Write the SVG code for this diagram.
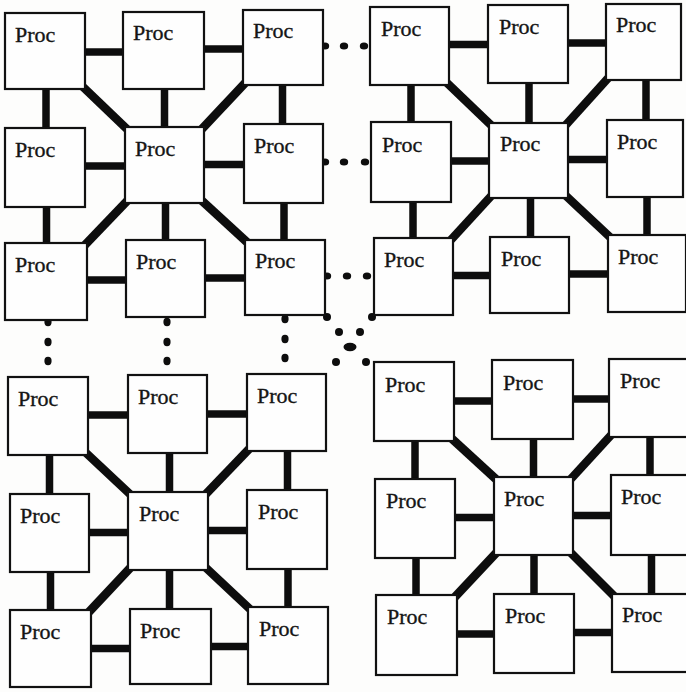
<svg xmlns="http://www.w3.org/2000/svg" width="686" height="692" viewBox="0 0 686 692">
<style>
.bg{fill:#fdfdfc}
.box{fill:#fefefe;stroke:#111;stroke-width:2.2}
.lbl{font-family:"Liberation Serif","Times New Roman",serif;font-size:22px;fill:#151515;stroke:#151515;stroke-width:0.35}
.link{stroke:#0d0d0d;stroke-width:7.5;fill:none}
.diag{stroke:#0d0d0d;stroke-width:8.5;fill:none}
.dot{fill:#0d0d0d}
</style>
<rect class="bg" x="0" y="0" width="686" height="692"/>
<g id="connectors">
<!-- Q1 -->
<line class="link" x1="82" y1="52" x2="126" y2="52"/>
<line class="link" x1="201" y1="49" x2="246" y2="49"/>
<line class="link" x1="82" y1="166" x2="128" y2="166"/>
<line class="link" x1="201" y1="164.5" x2="247" y2="164.5"/>
<line class="link" x1="84" y1="280" x2="129" y2="280"/>
<line class="link" x1="202" y1="278" x2="248" y2="278"/>
<line class="link" x1="46" y1="86" x2="46" y2="131"/>
<line class="link" x1="164.5" y1="86" x2="164.5" y2="130"/>
<line class="link" x1="282.5" y1="82" x2="282.5" y2="127"/>
<line class="link" x1="46.5" y1="204" x2="46.5" y2="246"/>
<line class="link" x1="165.5" y1="200" x2="165.5" y2="243"/>
<line class="link" x1="284" y1="200" x2="284" y2="243"/>
<line class="diag" x1="81" y1="85" x2="129" y2="131"/>
<line class="diag" x1="247" y1="81" x2="200" y2="131"/>
<line class="diag" x1="83" y1="247" x2="129" y2="199"/>
<line class="diag" x1="249" y1="244" x2="200" y2="199"/>
<!-- Q2 -->
<line class="link" x1="446" y1="44.5" x2="491" y2="44.5"/>
<line class="link" x1="565" y1="43" x2="609" y2="43"/>
<line class="link" x1="448" y1="161" x2="492" y2="161"/>
<line class="link" x1="565" y1="159.5" x2="610" y2="159.5"/>
<line class="link" x1="450" y1="275.5" x2="493" y2="275.5"/>
<line class="link" x1="566" y1="274" x2="611" y2="274"/>
<line class="link" x1="411" y1="82" x2="411" y2="125"/>
<line class="link" x1="529" y1="80" x2="529" y2="126"/>
<line class="link" x1="646" y1="77" x2="646" y2="123"/>
<line class="link" x1="413" y1="199" x2="413" y2="241"/>
<line class="link" x1="530.5" y1="195" x2="530.5" y2="240"/>
<line class="link" x1="647" y1="194" x2="647" y2="238"/>
<line class="diag" x1="445" y1="81" x2="493" y2="127"/>
<line class="diag" x1="610" y1="76" x2="564" y2="127"/>
<line class="diag" x1="449" y1="242" x2="493" y2="194"/>
<line class="diag" x1="612" y1="239" x2="564" y2="194"/>
<!-- Q3 -->
<line class="link" x1="85" y1="415" x2="131" y2="415"/>
<line class="link" x1="204" y1="414" x2="250" y2="414"/>
<line class="link" x1="86" y1="532.5" x2="131" y2="532.5"/>
<line class="link" x1="205" y1="530.5" x2="250" y2="530.5"/>
<line class="link" x1="88" y1="648.5" x2="133" y2="648.5"/>
<line class="link" x1="208" y1="646.5" x2="251" y2="646.5"/>
<line class="link" x1="49.5" y1="452" x2="49.5" y2="497"/>
<line class="link" x1="169.5" y1="450" x2="169.5" y2="495"/>
<line class="link" x1="287.5" y1="448" x2="287.5" y2="493"/>
<line class="link" x1="50.5" y1="569" x2="50.5" y2="613"/>
<line class="link" x1="169.5" y1="567" x2="169.5" y2="612"/>
<line class="link" x1="288" y1="566" x2="288" y2="610"/>
<line class="diag" x1="84" y1="451" x2="132" y2="496"/>
<line class="diag" x1="251" y1="447" x2="204" y2="496"/>
<line class="diag" x1="87" y1="614" x2="132" y2="566"/>
<line class="diag" x1="252" y1="611" x2="204" y2="566"/>
<!-- Q4 -->
<line class="link" x1="451" y1="401" x2="495" y2="401"/>
<line class="link" x1="570" y1="399" x2="612" y2="399"/>
<line class="link" x1="452" y1="517.5" x2="497" y2="517.5"/>
<line class="link" x1="570" y1="515.5" x2="614" y2="515.5"/>
<line class="link" x1="454" y1="634" x2="497" y2="634"/>
<line class="link" x1="571" y1="632.5" x2="615" y2="632.5"/>
<line class="link" x1="415" y1="438" x2="415" y2="482"/>
<line class="link" x1="533.5" y1="436" x2="533.5" y2="480"/>
<line class="link" x1="650" y1="434" x2="650" y2="478"/>
<line class="link" x1="416" y1="555" x2="416" y2="598"/>
<line class="link" x1="534" y1="552" x2="534" y2="597"/>
<line class="link" x1="651.5" y1="552" x2="651.5" y2="597"/>
<line class="diag" x1="450" y1="437" x2="498" y2="481"/>
<line class="diag" x1="613" y1="433" x2="569" y2="481"/>
<line class="diag" x1="453" y1="599" x2="498" y2="551"/>
<line class="diag" x1="616" y1="598" x2="569" y2="551"/>
<!-- dotted inter-cluster links -->
<ellipse class="dot" cx="325" cy="46" rx="4.2" ry="3.6"/>
<ellipse class="dot" cx="344" cy="46" rx="4.2" ry="3.6"/>
<ellipse class="dot" cx="364" cy="46" rx="4.2" ry="3.6"/>
<ellipse class="dot" cx="325" cy="162" rx="4.2" ry="3.6"/>
<ellipse class="dot" cx="344" cy="162" rx="4.2" ry="3.6"/>
<ellipse class="dot" cx="365" cy="162" rx="4.2" ry="3.6"/>
<ellipse class="dot" cx="327" cy="276" rx="4.2" ry="3.6"/>
<ellipse class="dot" cx="347" cy="276" rx="4.2" ry="3.6"/>
<ellipse class="dot" cx="367" cy="276" rx="4.2" ry="3.6"/>
<ellipse class="dot" cx="48" cy="322" rx="3.6" ry="4.2"/>
<ellipse class="dot" cx="48" cy="342" rx="3.6" ry="4.2"/>
<ellipse class="dot" cx="48" cy="361" rx="3.6" ry="4.2"/>
<ellipse class="dot" cx="167" cy="322" rx="3.6" ry="4.2"/>
<ellipse class="dot" cx="167" cy="342" rx="3.6" ry="4.2"/>
<ellipse class="dot" cx="167" cy="361" rx="3.6" ry="4.2"/>
<ellipse class="dot" cx="285" cy="319" rx="3.6" ry="4.2"/>
<ellipse class="dot" cx="285" cy="339" rx="3.6" ry="4.2"/>
<ellipse class="dot" cx="285" cy="358" rx="3.6" ry="4.2"/>
<ellipse class="dot" cx="327" cy="317" rx="4" ry="4"/>
<ellipse class="dot" cx="372" cy="317" rx="4" ry="4"/>
<ellipse class="dot" cx="339" cy="332" rx="4" ry="4"/>
<ellipse class="dot" cx="360" cy="332" rx="4" ry="4"/>
<ellipse class="dot" cx="350" cy="347" rx="6.5" ry="4.2"/>
<ellipse class="dot" cx="336" cy="362" rx="4" ry="4"/>
<ellipse class="dot" cx="366" cy="362" rx="4" ry="4"/>
</g>
<!-- Cluster 1 (top-left) -->
<g id="q1-r0c0"><rect class="box" x="5" y="13" width="80" height="76"/><text class="lbl" x="15" y="42">Proc</text></g>
<g id="q1-r0c1"><rect class="box" x="123" y="12" width="81" height="77"/><text class="lbl" x="133" y="40">Proc</text></g>
<g id="q1-r0c2"><rect class="box" x="243" y="10" width="80" height="75"/><text class="lbl" x="253" y="38">Proc</text></g>
<g id="q1-r1c0"><rect class="box" x="5" y="128" width="80" height="79"/><text class="lbl" x="15" y="157">Proc</text></g>
<g id="q1-r1c1"><rect class="box" x="125" y="127" width="79" height="76"/><text class="lbl" x="135" y="156">Proc</text></g>
<g id="q1-r1c2"><rect class="box" x="244" y="124" width="79" height="79"/><text class="lbl" x="254" y="153">Proc</text></g>
<g id="q1-r2c0"><rect class="box" x="5" y="243" width="82" height="77"/><text class="lbl" x="15" y="272">Proc</text></g>
<g id="q1-r2c1"><rect class="box" x="126" y="240" width="79" height="77"/><text class="lbl" x="136" y="269">Proc</text></g>
<g id="q1-r2c2"><rect class="box" x="245" y="240" width="80" height="75"/><text class="lbl" x="255" y="268">Proc</text></g>
<!-- Cluster 2 (top-right) -->
<g id="q2-r0c0"><rect class="box" x="370" y="7" width="79" height="78"/><text class="lbl" x="381" y="36">Proc</text></g>
<g id="q2-r0c1"><rect class="box" x="488" y="5" width="80" height="78"/><text class="lbl" x="499" y="34">Proc</text></g>
<g id="q2-r0c2"><rect class="box" x="606" y="4" width="75" height="76"/><text class="lbl" x="616" y="32">Proc</text></g>
<g id="q2-r1c0"><rect class="box" x="371" y="122" width="80" height="80"/><text class="lbl" x="382" y="152">Proc</text></g>
<g id="q2-r1c1"><rect class="box" x="489" y="123" width="79" height="75"/><text class="lbl" x="500" y="151">Proc</text></g>
<g id="q2-r1c2"><rect class="box" x="607" y="120" width="76" height="77"/><text class="lbl" x="617" y="149">Proc</text></g>
<g id="q2-r2c0"><rect class="box" x="374" y="238" width="79" height="77"/><text class="lbl" x="384" y="267">Proc</text></g>
<g id="q2-r2c1"><rect class="box" x="490" y="237" width="79" height="76"/><text class="lbl" x="501" y="266">Proc</text></g>
<g id="q2-r2c2"><rect class="box" x="608" y="235" width="78" height="77"/><text class="lbl" x="618" y="264">Proc</text></g>
<!-- Cluster 3 (bottom-left) -->
<g id="q3-r0c0"><rect class="box" x="8" y="377" width="80" height="78"/><text class="lbl" x="18" y="406">Proc</text></g>
<g id="q3-r0c1"><rect class="box" x="128" y="375" width="79" height="78"/><text class="lbl" x="138" y="404">Proc</text></g>
<g id="q3-r0c2"><rect class="box" x="247" y="374" width="79" height="77"/><text class="lbl" x="257" y="403">Proc</text></g>
<g id="q3-r1c0"><rect class="box" x="10" y="494" width="79" height="78"/><text class="lbl" x="20" y="523">Proc</text></g>
<g id="q3-r1c1"><rect class="box" x="128" y="492" width="80" height="78"/><text class="lbl" x="139" y="521">Proc</text></g>
<g id="q3-r1c2"><rect class="box" x="247" y="490" width="80" height="79"/><text class="lbl" x="258" y="519">Proc</text></g>
<g id="q3-r2c0"><rect class="box" x="10" y="610" width="81" height="77"/><text class="lbl" x="20" y="639">Proc</text></g>
<g id="q3-r2c1"><rect class="box" x="130" y="609" width="81" height="75"/><text class="lbl" x="140" y="638">Proc</text></g>
<g id="q3-r2c2"><rect class="box" x="248" y="607" width="80" height="77"/><text class="lbl" x="259" y="636">Proc</text></g>
<!-- Cluster 4 (bottom-right) -->
<g id="q4-r0c0"><rect class="box" x="374" y="362" width="80" height="79"/><text class="lbl" x="385" y="392">Proc</text></g>
<g id="q4-r0c1"><rect class="box" x="492" y="360" width="81" height="79"/><text class="lbl" x="503" y="390">Proc</text></g>
<g id="q4-r0c2"><rect class="box" x="609" y="359" width="80" height="78"/><text class="lbl" x="620" y="388">Proc</text></g>
<g id="q4-r1c0"><rect class="box" x="375" y="479" width="80" height="79"/><text class="lbl" x="386" y="508">Proc</text></g>
<g id="q4-r1c1"><rect class="box" x="494" y="477" width="79" height="78"/><text class="lbl" x="504" y="506">Proc</text></g>
<g id="q4-r1c2"><rect class="box" x="611" y="475" width="80" height="80"/><text class="lbl" x="621" y="504">Proc</text></g>
<g id="q4-r2c0"><rect class="box" x="376" y="595" width="81" height="80"/><text class="lbl" x="387" y="624">Proc</text></g>
<g id="q4-r2c1"><rect class="box" x="494" y="594" width="80" height="79"/><text class="lbl" x="505" y="623">Proc</text></g>
<g id="q4-r2c2"><rect class="box" x="612" y="594" width="80" height="78"/><text class="lbl" x="622" y="622">Proc</text></g>
</svg>
